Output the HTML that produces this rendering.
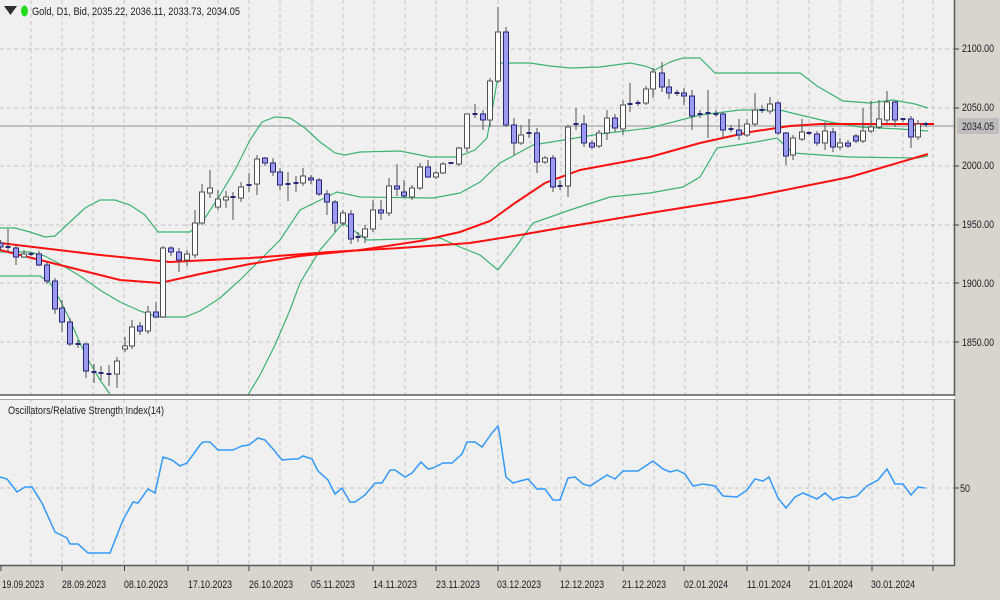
<!DOCTYPE html>
<html><head><meta charset="utf-8"><style>
html,body{margin:0;padding:0;background:#d8d4d0;}
svg{display:block;font-family:"Liberation Sans",sans-serif;}
</style></head><body>
<svg width="1000" height="600" viewBox="0 0 1000 600" xmlns="http://www.w3.org/2000/svg">
<rect x="0" y="0" width="1000" height="600" fill="#d8d4d0"/>
<rect x="0" y="0" width="954" height="395" fill="#f0f0f0"/>
<rect x="0" y="399" width="954" height="166" fill="#f0f0f0"/>
<rect x="0" y="395" width="955" height="4" fill="#ffffff"/>
<!-- grids -->
<g stroke="#c4c4c4" stroke-width="1" stroke-dasharray="4,3">
<path d="M31,0V395M62,0V395M93,0V395M124,0V395M156,0V395M187,0V395M218,0V395M249,0V395M280,0V395M312,0V395M343,0V395M374,0V395M405,0V395M436,0V395M467,0V395M498,0V395M530,0V395M561,0V395M592,0V395M623,0V395M654,0V395M685,0V395M717,0V395M747,0V395M778,0V395M809,0V395M840,0V395M872,0V395M903,0V395M933,0V395"/>
<path d="M31,399V565M62,399V565M93,399V565M124,399V565M156,399V565M187,399V565M218,399V565M249,399V565M280,399V565M312,399V565M343,399V565M374,399V565M405,399V565M436,399V565M467,399V565M498,399V565M530,399V565M561,399V565M592,399V565M623,399V565M654,399V565M685,399V565M717,399V565M747,399V565M778,399V565M809,399V565M840,399V565M872,399V565M903,399V565M933,399V565"/>
<path d="M0,49H954M0,108H954M0,166H954M0,225H954M0,283H954M0,342H954M0,488H954"/>
</g>
<line x1="0" y1="126" x2="954" y2="126" stroke="#c0c0c0" stroke-width="2"/>
<!-- bands -->
<g fill="none" stroke="#3cb371" stroke-width="1.2">
<polyline points="0,228 15,228 30,232 45,237 55,236 70,222 85,208 100,200 115,200 130,205 145,215 158,232 190,232 205,218 220,195 235,170 250,140 262,122 275,117 290,118 305,128 320,142 335,153 345,155 360,152 400,151 415,154 430,157 457,157 475,150 487,138 494,100 500,63 530,63 550,66 570,68 600,67 630,63 645,66 655,70 670,62 683,58 700,58 715,73 777,73 800,73 817,86 843,101 870,103 893,100 915,104 928,108"/>
<polyline points="0,252 30,252 45,256 60,264 80,276 100,290 120,302 140,311 158,317 185,317 200,311 220,298 240,280 260,260 280,240 300,210 337,192 360,197 433,198 460,193 480,182 500,163 533,145 600,134 650,128 700,115 740,110 780,110 800,115 830,122 860,127 900,129 928,131"/>
<polyline points="0,276 32,276 40,276 50,283 60,300 70,320 80,343 90,363 100,380 110,394"/>
<polyline points="248,395 260,375 275,345 290,310 300,283 320,250 343,223 367,240 440,238 460,247 480,255 498,270 515,248 533,223 570,210 610,197 650,193 683,187 700,177 717,148 750,143 777,138 793,153 850,157 917,158 928,156"/>
</g>
<!-- MAs -->
<g fill="none" stroke="#ff1010" stroke-width="2">
<polyline points="0,243 100,255 170,262 250,258 330,252 400,248 470,243 520,235 560,228 650,213 750,197 850,177 928,154"/>
<polyline points="0,250 60,265 120,280 160,283 200,274 250,264 300,256 360,250 420,241 460,232 490,221 515,203 545,183 580,170 650,157 700,143 750,132 790,126 820,124 930,124"/>
</g>
<!-- candles -->
<g stroke="#505050" stroke-width="1">
<path d="M0.5,240V250M8,229V252M16,245V265M24,250V258M31,252V256M39,251V266M47,262V284M55,278V314M62,300V332M70,318V346M78,340V348M86,343V378M94,364V383M101,366V380M109,365V386M117,357V388M125,337V352M132,320V349M140,322V335M148,306V334M156,302V318M163,246V318M171,246V256M179,248V272M187,250V266M195,210V258M202,184V225M210,170V198M218,190V210M226,191V208M233,192V220M241,182V202M249,173V192M257,155V195M265,157V166M273,158V176M280,168V190M288,172V201M296,176V192M303,168V186M311,175V184M319,178V196M327,190V215M335,200V232M343,210V226M351,210V244M358,232V242M365,225V243M373,200V232M381,200V220M389,178V216M397,164V196M404,180V198M412,185V200M420,163V190M428,160V178M436,171V179M443,162V174M451,162V164M459,147V166M467,114V152M475,104V118M483,110V130M490,78V127M498,7V83M506,27V127M514,118V155M521,125V145M529,119V138M537,128V173M545,156V164M553,155V192M560,180V190M568,125V197M576,108V130M584,115V147M592,140V149M599,130V148M607,110V140M615,114V132M623,100V135M630,83V112M638,100V106M646,86V105M653,68V98M662,62V92M669,79V99M677,90V96M684,88V105M692,90V130M700,110V118M708,90V138M716,110V117M723,112V138M731,125V132M739,119V140M747,119V137M755,93V126M762,105V113M770,97V114M778,101V135M786,132V165M793,135V160M802,119V141M809,131V135M817,131V146M825,122V150M833,128V152M840,138V150M848,140V148M856,134V143M863,108V143M871,101V133M879,100V129M887,91V123M895,101V127M903,118V122M911,116V148M918,120V140M926,122V127"/>
</g>
<g fill="#ffffff" stroke="#505050" stroke-width="1">
<rect x="21.5" y="254" width="5" height="3"/><rect x="114.5" y="361" width="5" height="13"/><rect x="122.5" y="346" width="5" height="3"/><rect x="129.5" y="327" width="5" height="19"/><rect x="145.5" y="312" width="5" height="19"/><rect x="160.5" y="248" width="5" height="69"/><rect x="184.5" y="254" width="5" height="6"/><rect x="192.5" y="223" width="5" height="32"/><rect x="199.5" y="192" width="5" height="31"/><rect x="207.5" y="188" width="5" height="5"/><rect x="215.5" y="199" width="5" height="8"/><rect x="223.5" y="197" width="5" height="3"/><rect x="238.5" y="187" width="5" height="11"/><rect x="254.5" y="159" width="5" height="25"/><rect x="300.5" y="176" width="5" height="7"/><rect x="340.5" y="213" width="5" height="10"/><rect x="362.5" y="229" width="5" height="8"/><rect x="370.5" y="210" width="5" height="19"/><rect x="386.5" y="186" width="5" height="27"/><rect x="409.5" y="188" width="5" height="9"/><rect x="417.5" y="167" width="5" height="21"/><rect x="433.5" y="173" width="5" height="4"/><rect x="440.5" y="164" width="5" height="9"/><rect x="456.5" y="148" width="5" height="16"/><rect x="464.5" y="114" width="5" height="34"/><rect x="487.5" y="81" width="5" height="39"/><rect x="495.5" y="32" width="5" height="49"/><rect x="518.5" y="135" width="5" height="8"/><rect x="542.5" y="158" width="5" height="4"/><rect x="565.5" y="127" width="5" height="59"/><rect x="596.5" y="133" width="5" height="13"/><rect x="604.5" y="118" width="5" height="15"/><rect x="620.5" y="105" width="5" height="24"/><rect x="643.5" y="89" width="5" height="14"/><rect x="650.5" y="72" width="5" height="17"/><rect x="744.5" y="124" width="5" height="11"/><rect x="752.5" y="110" width="5" height="14"/><rect x="767.5" y="104" width="5" height="7"/><rect x="790.5" y="138" width="5" height="17"/><rect x="799.5" y="132" width="5" height="7"/><rect x="822.5" y="131" width="5" height="12"/><rect x="837.5" y="143" width="5" height="4"/><rect x="860.5" y="131" width="5" height="10"/><rect x="868.5" y="127" width="5" height="4"/><rect x="876.5" y="119" width="5" height="8"/><rect x="884.5" y="102" width="5" height="18"/><rect x="915.5" y="124" width="5" height="13"/>
</g>
<g fill="#9b9bf2" stroke="#27277a" stroke-width="1">
<rect x="-2" y="243" width="5" height="4"/><rect x="13.5" y="248" width="5" height="9"/><rect x="36.5" y="254" width="5" height="11"/><rect x="44.5" y="265" width="5" height="16"/><rect x="52.5" y="281" width="5" height="28"/><rect x="59.5" y="308" width="5" height="14"/><rect x="67.5" y="322" width="5" height="22"/><rect x="83.5" y="344" width="5" height="27"/><rect x="137.5" y="326" width="5" height="5"/><rect x="153.5" y="312" width="5" height="5"/><rect x="168.5" y="248" width="5" height="4"/><rect x="176.5" y="252" width="5" height="8"/><rect x="262.5" y="158" width="5" height="5"/><rect x="270.5" y="163" width="5" height="9"/><rect x="277.5" y="172" width="5" height="13"/><rect x="308.5" y="178" width="5" height="2"/><rect x="316.5" y="180" width="5" height="14"/><rect x="324.5" y="194" width="5" height="8"/><rect x="332.5" y="202" width="5" height="21"/><rect x="348.5" y="214" width="5" height="25"/><rect x="378.5" y="210" width="5" height="3"/><rect x="394.5" y="186" width="5" height="3"/><rect x="401.5" y="192" width="5" height="4"/><rect x="425.5" y="167" width="5" height="10"/><rect x="480.5" y="114" width="5" height="6"/><rect x="503.5" y="32" width="5" height="93"/><rect x="511.5" y="125" width="5" height="18"/><rect x="534.5" y="133" width="5" height="29"/><rect x="550.5" y="158" width="5" height="29"/><rect x="581.5" y="124" width="5" height="19"/><rect x="589.5" y="143" width="5" height="4"/><rect x="612.5" y="118" width="5" height="10"/><rect x="659.5" y="73" width="5" height="14"/><rect x="666.5" y="87" width="5" height="6"/><rect x="681.5" y="93" width="5" height="3"/><rect x="689.5" y="96" width="5" height="20"/><rect x="720.5" y="114" width="5" height="16"/><rect x="736.5" y="130" width="5" height="5"/><rect x="775.5" y="103" width="5" height="30"/><rect x="783.5" y="133" width="5" height="23"/><rect x="814.5" y="134" width="5" height="9"/><rect x="830.5" y="132" width="5" height="15"/><rect x="845.5" y="143" width="5" height="3"/><rect x="853.5" y="136" width="5" height="5"/><rect x="892.5" y="102" width="5" height="18"/><rect x="908.5" y="119" width="5" height="18"/>
</g>
<g stroke="#27277a" stroke-width="2">
<path d="M5.5,247h5M28.5,254h5M75.5,344h5M91.5,372h5M98.5,373h5M106.5,374h5M230.5,197h5M246.5,185h5M285.5,184h5M293.5,183h5M355.5,237h5M448.5,163h5M472.5,114h5M526.5,133h5M557.5,186h5M573.5,124h5M627.5,104h5M635.5,103h5M674.5,93h5M697.5,114h5M705.5,113h5M713.5,114h5M728.5,129h5M759.5,110h5M806.5,133h5M900.5,119h5M923.5,124h5"/>
</g>
<line x1="928" y1="124" x2="934" y2="124" stroke="#ff0000" stroke-width="2"/>
<!-- RSI -->
<polyline fill="none" stroke="#3399ff" stroke-width="1.5" points="0,477 7,479 17,492 25,487 32,487 42,503 55,532 67,538 70,544 78,544 88,553 110,553 123,520 133,502 138,503 148,489 155,493 163,457 172,460 180,466 187,463 200,445 203,442 210,442 218,450 233,450 242,446 249,445 258,438 265,440 273,449 282,460 293,459 298,459 303,456 312,459 318,471 328,480 335,494 342,488 350,502 355,502 365,495 375,483 382,483 390,470 395,470 405,477 412,473 421,462 428,469 433,468 443,463 452,463 462,454 467,442 475,442 482,447 492,433 498,426 500,437 506,477 513,483 520,481 528,479 537,489 545,489 553,500 560,500 568,478 575,477 583,484 590,486 607,475 615,479 623,471 638,471 653,461 663,469 670,472 677,470 685,474 693,486 703,484 715,486 723,496 737,497 747,490 755,479 763,481 769,477 778,498 786,508 795,497 803,493 810,496 817,499 825,493 833,500 841,497 848,498 857,496 867,486 878,480 887,469 895,484 903,484 911,495 918,487 925,488"/>
<!-- borders -->
<g stroke="#5a5a5a" stroke-width="1.5" fill="none">
<line x1="954.5" y1="0" x2="954.5" y2="396"/>
<line x1="0" y1="395" x2="955" y2="395"/>
<line x1="954.5" y1="399" x2="954.5" y2="566"/>
<line x1="0" y1="565.5" x2="955" y2="565.5"/>
</g>
<line x1="0" y1="399.5" x2="954" y2="399.5" stroke="#a8a8a8" stroke-width="1"/>
<g stroke="#404040" stroke-width="1">
<path d="M954,49h5M954,108h5M954,166h5M954,225h5M954,283h5M954,342h5M954,488h5"/>
<path d="M1,566v5M62,566v5M124.5,566v5M188,566v5M249,566v5M311,566v5M373,566v5M436,566v5M498,566v5M560,566v5M623,566v5M684,566v5M747,566v5M809,566v5M872,566v5M933,566v5"/>
</g>
<!-- labels -->
<rect x="957" y="118" width="42" height="16" fill="#bdbdbd"/>
<g font-size="11" fill="#202020">
<text x="962" y="52" textLength="32" lengthAdjust="spacingAndGlyphs">2100.00</text>
<text x="962" y="111" textLength="32" lengthAdjust="spacingAndGlyphs">2050.00</text>
<text x="962" y="130" textLength="32" lengthAdjust="spacingAndGlyphs">2034.05</text>
<text x="962" y="169" textLength="32" lengthAdjust="spacingAndGlyphs">2000.00</text>
<text x="962" y="228" textLength="32" lengthAdjust="spacingAndGlyphs">1950.00</text>
<text x="962" y="287" textLength="32" lengthAdjust="spacingAndGlyphs">1900.00</text>
<text x="962" y="346" textLength="32" lengthAdjust="spacingAndGlyphs">1850.00</text>
<text x="960" y="492" textLength="10" lengthAdjust="spacingAndGlyphs">50</text>
</g>
<g font-size="11" fill="#202020">
<text x="2" y="588" textLength="42" lengthAdjust="spacingAndGlyphs">19.09.2023</text>
<text x="62" y="588" textLength="44" lengthAdjust="spacingAndGlyphs">28.09.2023</text>
<text x="124" y="588" textLength="44" lengthAdjust="spacingAndGlyphs">08.10.2023</text>
<text x="188" y="588" textLength="44" lengthAdjust="spacingAndGlyphs">17.10.2023</text>
<text x="249" y="588" textLength="44" lengthAdjust="spacingAndGlyphs">26.10.2023</text>
<text x="311" y="588" textLength="44" lengthAdjust="spacingAndGlyphs">05.11.2023</text>
<text x="373" y="588" textLength="44" lengthAdjust="spacingAndGlyphs">14.11.2023</text>
<text x="436" y="588" textLength="44" lengthAdjust="spacingAndGlyphs">23.11.2023</text>
<text x="497" y="588" textLength="44" lengthAdjust="spacingAndGlyphs">03.12.2023</text>
<text x="560" y="588" textLength="44" lengthAdjust="spacingAndGlyphs">12.12.2023</text>
<text x="622" y="588" textLength="44" lengthAdjust="spacingAndGlyphs">21.12.2023</text>
<text x="684" y="588" textLength="44" lengthAdjust="spacingAndGlyphs">02.01.2024</text>
<text x="747" y="588" textLength="44" lengthAdjust="spacingAndGlyphs">11.01.2024</text>
<text x="809" y="588" textLength="44" lengthAdjust="spacingAndGlyphs">21.01.2024</text>
<text x="871" y="588" textLength="44" lengthAdjust="spacingAndGlyphs">30.01.2024</text>
</g>
<polygon points="4,6 17,6 10.5,15" fill="#303030"/>
<ellipse cx="24.5" cy="11" rx="3.5" ry="5.5" fill="#22dd22"/>
<text x="32" y="15" font-size="11" fill="#202020" textLength="208" lengthAdjust="spacingAndGlyphs">Gold, D1, Bid, 2035.22, 2036.11, 2033.73, 2034.05</text>
<text x="8" y="414" font-size="11" fill="#202020" textLength="156" lengthAdjust="spacingAndGlyphs">Oscillators/Relative Strength Index(14)</text>
</svg>
</body></html>
